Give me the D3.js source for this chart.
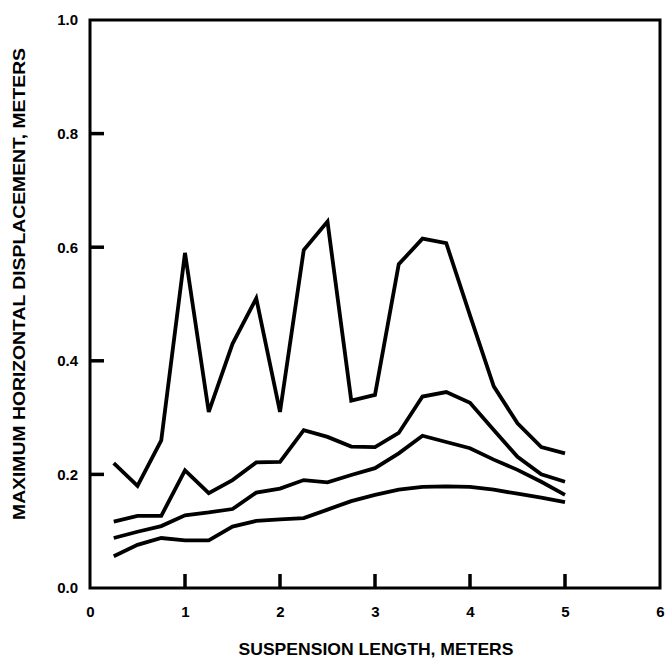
<!DOCTYPE html>
<html>
<head>
<meta charset="utf-8">
<script src="https://cdn.jsdelivr.net/npm/d3@7"></script>
<style>
  body { margin: 0; background: #fff; }
  text { font-family: "Liberation Sans", Arial, sans-serif; font-weight: bold; fill: #000; }
</style>
</head>
<body>
<svg width="665" height="660"></svg>
<script>
// suspension length, meters
var lengths = [0.25, 0.5, 0.75, 1.0, 1.25, 1.5, 1.75, 2.0, 2.25, 2.5,
               2.75, 3.0, 3.25, 3.5, 3.75, 4.0, 4.25, 4.5, 4.75, 5.0];

// max horizontal displacement, meters (one array per curve, top to bottom)
var curveA = [0.22, 0.18, 0.26, 0.59, 0.31, 0.43, 0.51, 0.31, 0.595, 0.645,
              0.33, 0.34, 0.57, 0.615, 0.607, 0.48, 0.355, 0.29, 0.248, 0.237];
var curveB = [0.117, 0.127, 0.127, 0.207, 0.167, 0.19, 0.221, 0.222, 0.278, 0.266,
              0.249, 0.248, 0.273, 0.337, 0.345, 0.326, 0.278, 0.231, 0.2, 0.187];
var curveC = [0.088, 0.099, 0.109, 0.128, 0.133, 0.139, 0.168, 0.175, 0.19, 0.186,
              0.199, 0.211, 0.237, 0.268, 0.257, 0.246, 0.226, 0.208, 0.187, 0.164];
var curveD = [0.056, 0.076, 0.088, 0.084, 0.084, 0.108, 0.118, 0.121, 0.123, 0.138,
              0.153, 0.164, 0.173, 0.178, 0.179, 0.178, 0.173, 0.166, 0.159, 0.151];

var xTicks = [0, 1, 2, 3, 4, 5, 6];
var yTicks = [0.0, 0.2, 0.4, 0.6, 0.8, 1.0];

var svg = d3.select("svg");
var plotL = 90, plotR = 660, plotT = 20, plotB = 588;
var tickLen = 14;

var x = d3.scaleLinear().domain([0, 6]).range([plotL, plotR]);
var y = d3.scaleLinear().domain([0, 1]).range([plotB, plotT]);

// frame
svg.append("rect")
    .attr("x", plotL).attr("y", plotT)
    .attr("width", plotR - plotL).attr("height", plotB - plotT)
    .attr("fill", "none").attr("stroke", "#000").attr("stroke-width", 3);

// labels from the axes
var xAxis = svg.append("g")
    .attr("transform", "translate(0," + plotB + ")")
    .call(d3.axisBottom(x).tickValues(xTicks).tickFormat(d3.format("d"))
        .tickSize(0).tickPadding(18));

var yAxis = svg.append("g")
    .attr("transform", "translate(" + plotL + ",0)")
    .call(d3.axisLeft(y).tickValues(yTicks).tickFormat(d3.format(".1f"))
        .tickSize(0).tickPadding(12));

[xAxis, yAxis].forEach(function(g) {
  g.attr("font-size", null).attr("font-family", null);
  g.select(".domain").remove();
  g.selectAll(".tick line").remove();
  g.selectAll("text").style("font-size", "15px");
});

// inward tick marks
svg.append("g").selectAll("line")
    .data(xTicks.slice(1, -1))
    .enter().append("line")
      .attr("x1", function(d) { return x(d); })
      .attr("x2", function(d) { return x(d); })
      .attr("y1", plotB)
      .attr("y2", plotB - tickLen)
      .attr("stroke", "#000").attr("stroke-width", 3.5);

svg.append("g").selectAll("line")
    .data(yTicks.slice(1, -1))
    .enter().append("line")
      .attr("x1", plotL)
      .attr("x2", plotL + tickLen)
      .attr("y1", function(d) { return y(d); })
      .attr("y2", function(d) { return y(d); })
      .attr("stroke", "#000").attr("stroke-width", 3.5);

var line = d3.line()
    .x(function(d, i) { return x(lengths[i]); })
    .y(function(d) { return y(d); });

svg.append("g")
    .selectAll("path")
    .data([curveA, curveB, curveC, curveD])
    .enter().append("path")
      .attr("d", line)
      .attr("fill", "none")
      .attr("stroke", "#000")
      .attr("stroke-width", 3.8)
      .attr("stroke-linejoin", "miter");

// axis titles
svg.append("text")
    .attr("x", 376).attr("y", 655)
    .attr("text-anchor", "middle")
    .style("font-size", "17px")
    .attr("textLength", 275).attr("lengthAdjust", "spacingAndGlyphs")
    .text("SUSPENSION LENGTH, METERS");

svg.append("text")
    .attr("transform", "translate(25,284) rotate(-90)")
    .attr("text-anchor", "middle")
    .style("font-size", "17px")
    .attr("textLength", 472).attr("lengthAdjust", "spacingAndGlyphs")
    .text("MAXIMUM HORIZONTAL DISPLACEMENT, METERS");
</script>
</body>
</html>
